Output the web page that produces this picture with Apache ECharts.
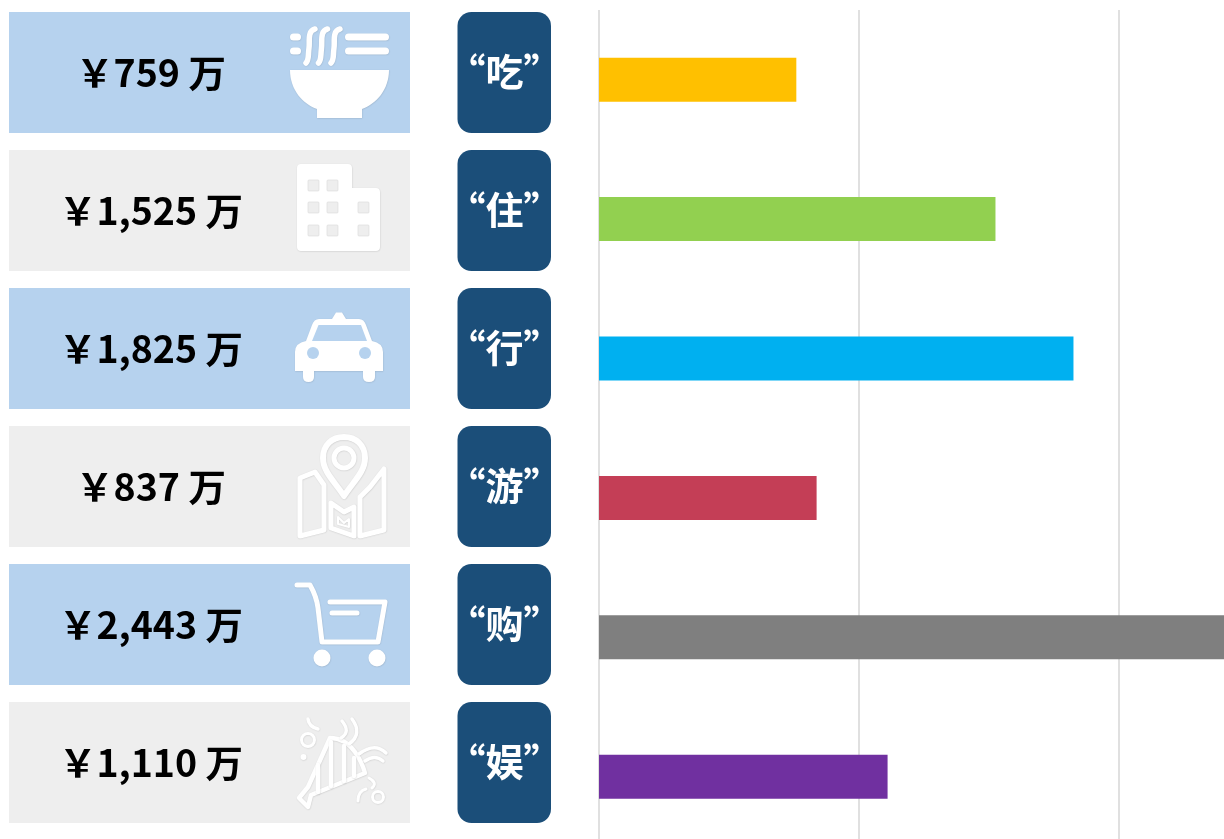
<!DOCTYPE html>
<html><head><meta charset="utf-8">
<style>html,body{margin:0;padding:0;background:#fff;overflow:hidden}#c{width:1224px;height:839px}</style>
<script src="https://cdn.jsdelivr.net/npm/echarts@6/dist/echarts.min.js"></script>
</head><body><div id="c"></div>
<script>
const categories = ['吃','住','行','游','购','娱'];
const values = [759,1525,1825,837,2443,1110];
const barColors = ['#FFC000','#92D050','#00B0F0','#C43E56','#7F7F7F','#7030A0'];
const axisTicks = [0,1000,2000];
const valueSuffix = '万';
const currency = '￥';

const chart = echarts.init(document.getElementById('c'), null, {renderer:'canvas'});
const FONT = '"Noto Sans CJK SC","Noto Sans",sans-serif';
const BLUE = '#B6D2EE', GREY = '#EEEEEE';
const g = [];
const CARD_Y = [12,150,288,426,564,702];
const edge = {shadowColor:'rgba(0,0,0,0.14)',shadowBlur:1.5,shadowOffsetX:0.3,shadowOffsetY:0.4};
const fillS = Object.assign({fill:'#fff',stroke:null},edge);
const lineS = w => Object.assign({fill:null,stroke:'#fff',lineWidth:w,lineCap:'round',lineJoin:'round'},edge);
let pathId = 0;
const P = (d,style,z) => {
  const name = 'iconPath'+(pathId++);
  echarts.graphic.registerShape(name, echarts.graphic.extendPath(d));
  return {type:name,shape:{},style,z:z||20,silent:true};
};
const C = (cx,cy,r,style,z) => ({type:'circle',shape:{cx,cy,r},style,z:z||20,silent:true});
const R = (x,y,w,h,r,style,z) => ({type:'rect',shape:{x,y,width:w,height:h,r},style,z:z||20,silent:true});

categories.forEach((c,i)=>{
  const y = CARD_Y[i];
  g.push({type:'rect',shape:{x:9,y,width:401,height:121},style:{fill:i%2===0?BLUE:GREY},z:5,silent:true});
  g.push({type:'rect',shape:{x:457.5,y:y,width:93.5,height:121,r:14},style:{fill:'#1B4E79'},z:5,silent:true});
  g.push({type:'text',x:151,y:y+61,z:30,silent:true,style:{text:currency+values[i].toLocaleString('en-US')+' '+valueSuffix,
    fill:'#000',font:'700 37.5px '+FONT,textAlign:'center',textVerticalAlign:'middle'}});
  g.push({type:'text',x:504.5,y:y+60,z:30,silent:true,style:{text:'“'+c+'”',
    fill:'#fff',font:'700 38px '+FONT,textAlign:'center',textVerticalAlign:'middle'}});
});

// bowl
g.push(P('M290 70H389C389 90 376 104 362 109V118H317V109C303 104 290 90 290 70Z',fillS));
g.push(R(290,33.5,11,7,3.5,fillS),R(290,47.5,11,7,3.5,fillS),R(345,33.5,44,7,3.5,fillS),R(345,47.5,44,7,3.5,fillS));
[0,12.5,25].forEach(d=>g.push(P(`M${315+d} 29C${307+d} 31 ${310+d} 42 ${309+d} 48C${308+d} 56 ${309+d} 60 ${306+d} 63`,lineS(5.5))));
// building
g.push(P('M301 164H348Q352 164 352 168V188H376Q380 188 380 192V247Q380 251 376 251H301Q297 251 297 247V168Q297 164 301 164Z',fillS));
const win = {fill:GREY,stroke:'#D8D8D8',lineWidth:0.6};
[[308,180],[327,180],[308,202],[327,202],[358,202],[308,225],[327,225],[358,225]].forEach(p=>g.push(R(p[0],p[1],11,11,1,win,21)));
// taxi
g.push(P('M332 319L336 312.5H342L346 319H359Q364 319 366 325L372 341Q383 343 383 352V371H375V377Q375 382 369 382Q363 382 363 377V371H314V377Q314 382 308.5 382Q303 382 303 377V371H295V352Q295 343 306 341L312 325Q314 319 319 319Z',fillS));
const hole = {fill:BLUE,stroke:null};
g.push(P('M318.5 325L312 341H367L361 325Z',hole,21));
g.push(C(313,353,6,hole,21),C(365,353,6,hole,21));
// map pin
g.push(P('M344 496C335 482 323 472 323 458C323 445 332 437 344 437C356 437 365 445 365 458C365 472 353 482 344 496Z',lineS(6)));
g.push(C(344,458,10,lineS(5)));
g.push(P('M300 478L315 472L324 485V530L300 536Z',lineS(5)));
g.push(P('M331 503L344 512L354 507V536L331 528Z',lineS(5)));
g.push(P('M384 469V530L360 536V497L370 487Z',lineS(5)));
g.push(P('M338 517L344 523L349 519V527L338 524Z',lineS(2)));
// cart
g.push(P('M297 585H310C314 592 317 600 318 608L322 642H378L385 602H330',lineS(5)));
g.push(P('M332 613H357',lineS(5)));
g.push(C(322,658,8.5,fillS),C(377,658,8.5,fillS));
// party
g.push(P('M299 798L308 787L330 738Q345 738 355 752Q362 762 365 773L311 795L308 807Z',lineS(4.5)));
g.push(P('M318 765V792M331 742V786M344 746V781M354 758V776',lineS(4.5)));
g.push(C(308,740,6.5,lineS(3)),C(303.5,757,3,fillS),C(378,797,5.5,lineS(3)));
g.push(P('M308 719Q309 727 318 729',lineS(3.5)));
g.push(P('M342 721Q351 732 341 738',lineS(3.5)));
g.push(P('M352 719Q363 734 349 744',lineS(3.5)));
g.push(P('M359 754Q375 742 386 753',lineS(3.5)));
g.push(P('M365 761Q375 754 383 761',lineS(3.5)));
g.push(P('M369 778Q378 783 372 788',lineS(3)));
g.push(P('M358 801Q358 791 366 789',lineS(3)));

chart.setOption({
  animation:false,
  backgroundColor:'#fff',
  grid:{left:599,top:10,width:625,height:836.4,containLabel:false,outerBoundsMode:'none'},
  xAxis:{type:'value',min:axisTicks[0],max:2404,interval:axisTicks[1]-axisTicks[0],
    axisLabel:{show:false},axisTick:{show:false},axisLine:{show:false},
    splitLine:{show:true,showMaxLine:false,lineStyle:{color:'#D9D9D9',width:1.6}}},
  yAxis:{type:'category',inverse:true,data:categories,axisLabel:{show:false},axisTick:{show:false},axisLine:{show:false}},
  series:[{type:'bar',barWidth:44,clip:true,silent:true,
    data:values.map((v,i)=>({value:v,itemStyle:{color:barColors[i]}}))}],
  graphic:{elements:g}
});
</script></body></html>
